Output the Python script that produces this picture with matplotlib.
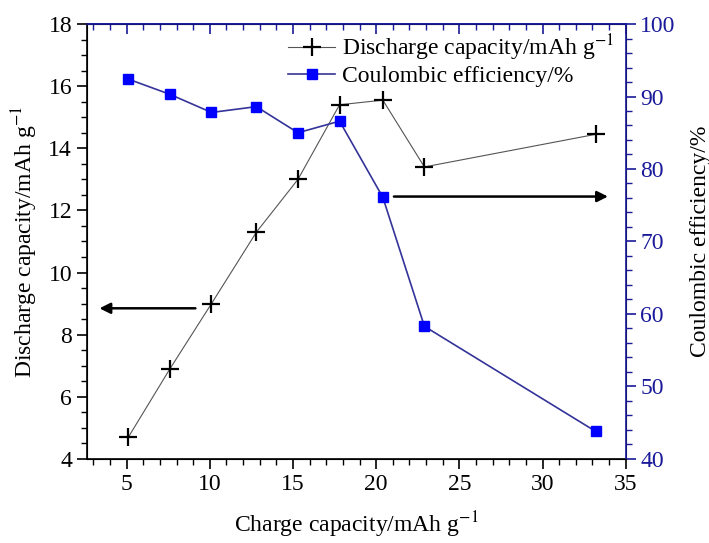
import matplotlib
matplotlib.use('Agg')
import matplotlib.pyplot as plt
from matplotlib.ticker import MultipleLocator

plt.rcParams['font.family'] = 'Liberation Serif'
plt.rcParams['mathtext.fontset'] = 'stix'

# data
charge = [5.1, 7.6, 10.1, 12.8, 15.3, 17.8, 20.4, 22.9, 33.2]
discharge = [4.7, 6.9, 9.0, 11.3, 13.0, 15.4, 15.55, 13.4, 14.45]
coulombic = [92.4, 90.3, 87.8, 88.6, 85.0, 86.6, 76.1, 58.3, 43.8]

navy = '#1a1a9a'
fs = 17

fig = plt.figure(figsize=(7.09, 5.43), dpi=100)
ax = fig.add_axes([0.1223, 0.1547, 0.7602, 0.8011])
ax2 = ax.twinx()

l1, = ax.plot(charge, discharge, color='#555555', lw=0.8, marker='+',
              ms=13, mew=1.6, mec='black', zorder=3,
              label='Discharge capacity/mAh g$^{-1}$')
l2, = ax2.plot(charge, coulombic, color='#33339a', lw=1.2, marker='s',
               ms=6.5, mfc='#0000ff', mec='#0000ff',
               label='Coulombic efficiency/%')

ax.set_xlim(2.6, 35)
ax.set_ylim(4, 18)
ax2.set_ylim(40, 100)

ax.xaxis.set_major_locator(MultipleLocator(5))
ax.xaxis.set_minor_locator(MultipleLocator(1))
ax.yaxis.set_major_locator(MultipleLocator(2))
ax.yaxis.set_minor_locator(MultipleLocator(0.5))
ax2.yaxis.set_major_locator(MultipleLocator(10))
ax2.yaxis.set_minor_locator(MultipleLocator(2))

ax.tick_params(axis='both', which='major', direction='out', length=7, width=1.2,
               labelsize=fs, top=False)
ax.tick_params(axis='both', which='minor', direction='out', length=4, width=1.0, top=False)
# top axis: inward ticks in navy
secx = ax.secondary_xaxis('top')
secx.xaxis.set_major_locator(MultipleLocator(5))
secx.xaxis.set_minor_locator(MultipleLocator(1))
secx.tick_params(which='major', direction='in', length=7, width=1.2, color=navy,
                 labeltop=False)
secx.tick_params(which='minor', direction='in', length=4, width=1.0, color=navy)
secx.spines['top'].set_color(navy)
secx.spines['top'].set_linewidth(1.2)

ax2.tick_params(axis='y', which='major', direction='out', length=7, width=1.2,
                colors=navy, labelsize=fs)
ax2.tick_params(axis='y', which='minor', direction='out', length=4, width=1.0, colors=navy)

for s in ['left', 'bottom']:
    ax.spines[s].set_linewidth(1.2)
ax2.spines['right'].set_color(navy)
ax2.spines['right'].set_linewidth(1.2)
ax2.spines['top'].set_color(navy)
ax2.spines['top'].set_linewidth(1.2)

ax.set_xlabel('Charge capacity/mAh g$^{-1}$', fontsize=fs, labelpad=11)
ax.set_ylabel('Discharge capacity/mAh g$^{-1}$', fontsize=fs, labelpad=6)
ax2.set_ylabel('Coulombic efficiency/%', fontsize=fs, labelpad=10)

# arrows pointing to each axis
ax.annotate('', xy=(3.2, 8.85), xytext=(9.3, 8.85),
            arrowprops=dict(arrowstyle='-|>', color='black', lw=1.8,
                            mutation_scale=16))
ax2.annotate('', xy=(34.1, 76.2), xytext=(20.9, 76.2),
             arrowprops=dict(arrowstyle='-|>', color='black', lw=1.8,
                             mutation_scale=16))

leg = ax.legend([l1, l2], [l1.get_label(), l2.get_label()],
                loc='upper left', bbox_to_anchor=(0.393, 0.957),
                bbox_transform=fig.transFigure, frameon=False, fontsize=fs,
                handlelength=2.0, handletextpad=0.3, labelspacing=0.1,
                borderaxespad=0, numpoints=1)

fig.savefig('out.png', dpi=100)
